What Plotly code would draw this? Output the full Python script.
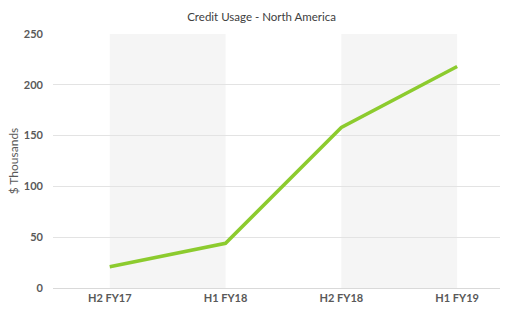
import plotly.graph_objects as go

categories = ["H2 FY17", "H1 FY18", "H2 FY18", "H1 FY19"]
values = [21, 44, 158, 218]
y_ticks = [0, 50, 100, 150, 200, 250]

fig = go.Figure()
fig.add_trace(go.Scatter(
    x=list(range(len(categories))), y=values, mode="lines",
    line=dict(color="#8CCB2E", width=3.5), hoverinfo="skip", showlegend=False,
))

shapes = []
for i in (0, 2):
    shapes.append(dict(type="rect", xref="x", yref="y", x0=i, x1=i + 1, y0=0, y1=250,
                       fillcolor="#F5F5F5", line=dict(width=0), layer="below"))

fig.update_layout(
    width=508, height=328,
    margin=dict(l=53, r=8, t=34, b=40),
    paper_bgcolor="white", plot_bgcolor="white",
    font=dict(family="Lato, Open Sans, sans-serif", color="#595959"),
    title=dict(text="Credit Usage - North America", x=0.515, xanchor="center", y=0.948, yanchor="middle",
               font=dict(size=11.5, color="#404040")),
    shapes=shapes,
    xaxis=dict(
        tickmode="array", tickvals=list(range(len(categories))),
        ticktext=["<b>%s</b>" % c for c in categories],
        range=[-0.49, 3.37], showgrid=False, zeroline=False,
        showline=True, linecolor="#D9D9D9", linewidth=1,
        ticks="", tickfont=dict(size=11, color="#595959"), fixedrange=True,
    ),
    yaxis=dict(
        tickmode="array", tickvals=y_ticks, ticktext=["<b>%d</b>" % t for t in y_ticks],
        range=[0, 250], showgrid=True, gridcolor="#E3E3E3", gridwidth=1,
        zeroline=False, showline=False, ticks="", ticklabelstandoff=9,
        tickfont=dict(size=11, color="#595959"),
        title=dict(text="$ Thousands", font=dict(size=12, color="#595959"), standoff=2),
        fixedrange=True,
    ),
)

fig.write_html("out.html", config={"displayModeBar": False})
